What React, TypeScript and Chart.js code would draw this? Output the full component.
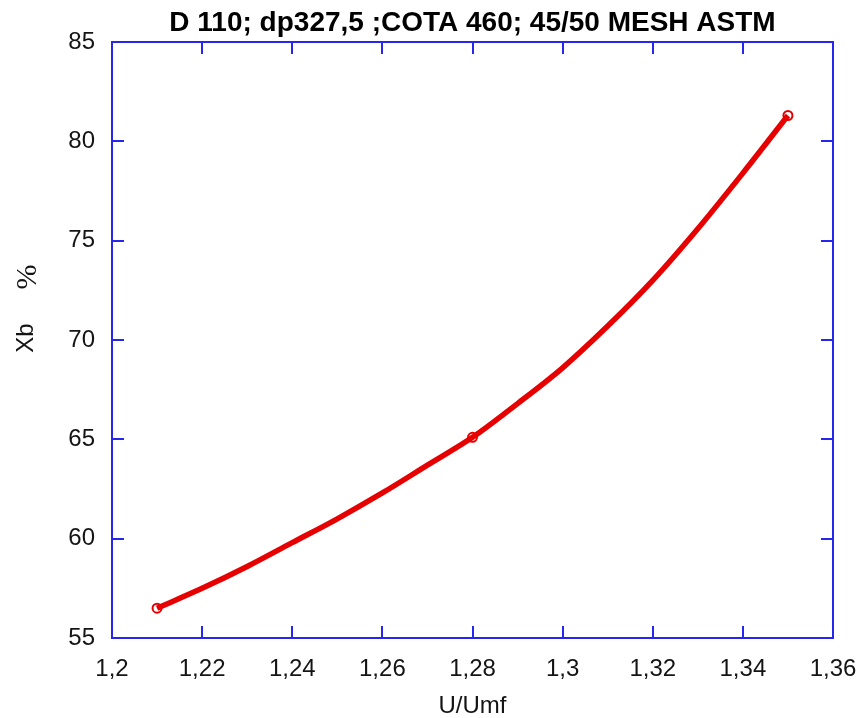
import React, { useEffect, useRef } from 'react';
import { Chart, registerables } from 'chart.js';

Chart.register(...registerables);

// ---- data ----
const curveX = [1.21, 1.22, 1.23, 1.24, 1.25, 1.26, 1.27, 1.28, 1.29, 1.30, 1.31, 1.32, 1.33, 1.34, 1.35];
const curveY = [56.5, 57.5, 58.6, 59.8, 61.0, 62.3, 63.7, 65.1, 66.8, 68.6, 70.7, 73.0, 75.6, 78.4, 81.3];
const markerX = [1.21, 1.28, 1.35];
const markerY = [56.5, 65.1, 81.3];

const xTicks = [1.2, 1.22, 1.24, 1.26, 1.28, 1.3, 1.32, 1.34, 1.36];
const xTickLabels = ['1,2', '1,22', '1,24', '1,26', '1,28', '1,3', '1,32', '1,34', '1,36'];
const yTicks = [55, 60, 65, 70, 75, 80, 85];
const yTickLabels = ['55', '60', '65', '70', '75', '80', '85'];

const titleText = 'D 110; dp327,5 ;COTA 460; 45/50 MESH ASTM';
const xTitle = 'U/Umf';
const yTitleMain = 'Xb';
const yTitleUnit = '%';

const BLUE = '#2626ee';
const RED = '#e60000';
const TEXT = '#141414';
const SANS = '"Liberation Sans", Arial, sans-serif';

const framePlugin = {
  id: 'frame',
  beforeDatasetsDraw(chart: any) {
    const { ctx, chartArea } = chart;
    const { left, right, top, bottom } = chartArea;
    const xs = chart.scales.x;
    const ys = chart.scales.y;
    const tl = 12;
    ctx.save();
    ctx.strokeStyle = BLUE;
    ctx.lineWidth = 2;
    ctx.strokeRect(left, top, right - left, bottom - top);
    ctx.beginPath();
    xTicks.forEach((v) => {
      const px = Math.round(xs.getPixelForValue(v));
      if (px <= left + 1 || px >= right - 1) return;
      ctx.moveTo(px, bottom);
      ctx.lineTo(px, bottom - tl);
      ctx.moveTo(px, top);
      ctx.lineTo(px, top + tl);
    });
    yTicks.forEach((v) => {
      const py = Math.round(ys.getPixelForValue(v));
      if (py <= top + 1 || py >= bottom - 1) return;
      ctx.moveTo(left, py);
      ctx.lineTo(left + tl, py);
      ctx.moveTo(right, py);
      ctx.lineTo(right - tl, py);
    });
    ctx.stroke();
    ctx.restore();
  },
  afterDraw(chart: any) {
    const { ctx, chartArea } = chart;
    const top = chartArea.top;
    // chart title, centred over the plot area
    ctx.save();
    ctx.fillStyle = '#000000';
    ctx.textAlign = 'center';
    ctx.textBaseline = 'alphabetic';
    ctx.font = `bold 28px ${SANS}`;
    ctx.fillText(titleText, (chartArea.left + chartArea.right) / 2, top - 11);
    ctx.restore();
    // y axis title
    ctx.save();
    ctx.fillStyle = TEXT;
    ctx.textAlign = 'center';
    ctx.textBaseline = 'alphabetic';
    ctx.translate(33, top + 296);
    ctx.rotate(-Math.PI / 2);
    ctx.font = `24px ${SANS}`;
    ctx.fillText(yTitleMain, 0, 0);
    ctx.restore();
    ctx.save();
    ctx.fillStyle = TEXT;
    ctx.textAlign = 'center';
    ctx.textBaseline = 'alphabetic';
    ctx.translate(36, top + 235);
    ctx.rotate(-Math.PI / 2);
    ctx.font = '30px "Liberation Serif", "Times New Roman", serif';
    ctx.fillText(yTitleUnit, 0, 0);
    ctx.restore();
  },
};

export default function App() {
  const ref = useRef<HTMLCanvasElement | null>(null);

  useEffect(() => {
    document.body.style.margin = '0';
    const canvas = ref.current;
    if (!canvas) return;
    const chart = new Chart(canvas, {
      type: 'line',
      data: {
        datasets: [
          {
            label: 'curve',
            data: curveX.map((x, i) => ({ x, y: curveY[i] })),
            borderColor: RED,
            borderWidth: 5.5,
            pointRadius: 0,
            cubicInterpolationMode: 'monotone',
            fill: false,
          },
          {
            label: 'points',
            data: markerX.map((x, i) => ({ x, y: markerY[i] })),
            showLine: false,
            borderColor: RED,
            pointBorderColor: RED,
            pointBackgroundColor: '#ffffff',
            pointRadius: 4.5,
            pointBorderWidth: 2,
          },
        ],
      },
      options: {
        animation: false,
        responsive: false,
        maintainAspectRatio: false,
        layout: { padding: { left: 0, right: 26, top: 42, bottom: 0 } },
        plugins: {
          legend: { display: false },
          tooltip: { enabled: false },
          title: { display: false },
        },
        scales: {
          x: {
            type: 'linear',
            min: 1.2,
            max: 1.36,
            afterBuildTicks: (s: any) => {
              s.ticks = xTicks.map((v) => ({ value: v }));
            },
            afterFit: (s: any) => {
              s.height = 80;
              s.paddingLeft = 0;
              s.paddingRight = 0;
            },
            grid: { display: false, drawTicks: false },
            border: { display: false },
            ticks: {
              color: TEXT,
              padding: 17,
              maxRotation: 0,
              autoSkip: false,
              font: { family: SANS, size: 24 },
              callback: (v: any) => {
                const i = xTicks.findIndex((t) => Math.abs(t - Number(v)) < 1e-6);
                return i >= 0 ? xTickLabels[i] : '';
              },
            },
            title: {
              display: true,
              text: xTitle,
              color: TEXT,
              font: { family: SANS, size: 24, lineHeight: 1 },
              padding: { top: 0, bottom: 0 },
            },
          },
          y: {
            type: 'linear',
            min: 55,
            max: 85,
            afterBuildTicks: (s: any) => {
              s.ticks = yTicks.map((v) => ({ value: v }));
            },
            afterFit: (s: any) => {
              s.width = 112;
              s.paddingTop = 0;
              s.paddingBottom = 0;
            },
            grid: { display: false, drawTicks: false },
            border: { display: false },
            ticks: {
              color: TEXT,
              padding: 17,
              autoSkip: false,
              font: { family: SANS, size: 24 },
              callback: (v: any) => {
                const i = yTicks.findIndex((t) => Math.abs(t - Number(v)) < 1e-6);
                return i >= 0 ? yTickLabels[i] : '';
              },
            },
          },
        },
      } as any,
      plugins: [framePlugin],
    });
    return () => chart.destroy();
  }, []);

  return (
    <canvas
      ref={ref}
      width={859}
      height={718}
      style={{ display: 'block', width: '859px', height: '718px', background: '#ffffff' }}
    />
  );
}
